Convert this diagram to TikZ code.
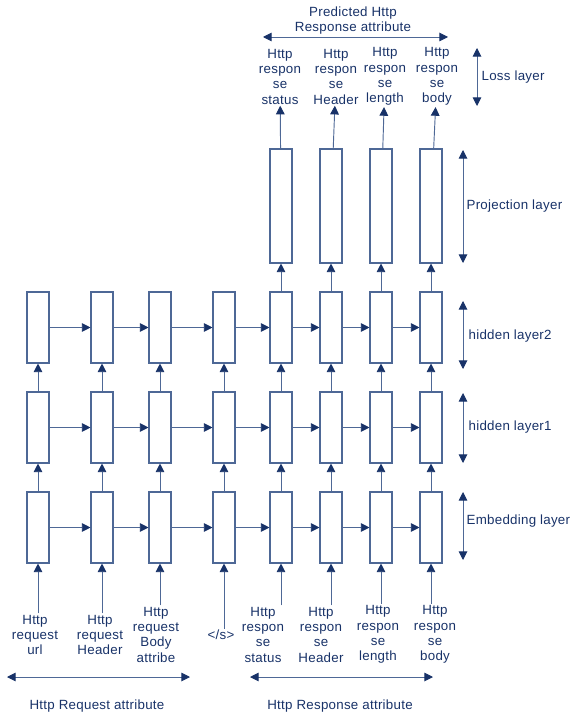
\documentclass[tikz,border=0pt]{standalone}
\usepackage{fontspec}
\setmainfont[LetterSpace=2]{Liberation Sans}
\usepackage{tikz}
\usetikzlibrary{arrows,arrows.meta,positioning}
\definecolor{rnnnavy}{RGB}{24,50,104}
\definecolor{rnnsteel}{RGB}{78,104,150}
\tikzstyle{arrow} = [line width=0.7pt,color=rnnsteel,-{Triangle[length=6.5pt,width=6.5pt,color=rnnnavy]}]
\tikzstyle{layerspan} = [line width=0.7pt,color=rnnsteel,{Triangle[length=6.5pt,width=6.5pt,color=rnnnavy]}-{Triangle[length=6.5pt,width=6.5pt,color=rnnnavy]}]
\tikzstyle{cell} = [rectangle, minimum width=16.5pt, minimum height=53.25pt, inner sep=0pt, draw=rnnsteel, line width=0.8pt, fill=white]
\tikzstyle{proj} = [cell, minimum height=85.5pt]
\tikzstyle{lbl} = [align=center, text=rnnnavy, inner sep=1pt, font=\fontsize{10}{11.5}\selectfont]

\begin{document}
\begin{tikzpicture}[x=0.75pt, y=-0.75pt]
\useasboundingbox (0,0) rectangle (572,716);

% Embedding layer
\node (e1) [cell] at (38,527.5) {};
\node (e2) [cell, right of=e1, node distance=48pt] {};
\node (e3) [cell, right of=e2, node distance=43.5pt] {};
\node (e4) [cell, right of=e3, node distance=48pt] {};
\node (e5) [cell, right of=e4, node distance=42.75pt] {};
\node (e6) [cell, right of=e5, node distance=37.5pt] {};
\node (e7) [cell, right of=e6, node distance=37.5pt] {};
\node (e8) [cell, right of=e7, node distance=37.5pt] {};

% Hidden layer 1
\node (f1) [cell, above of=e1, node distance=75pt] {};
\node (f2) [cell, above of=e2, node distance=75pt] {};
\node (f3) [cell, above of=e3, node distance=75pt] {};
\node (f4) [cell, above of=e4, node distance=75pt] {};
\node (f5) [cell, above of=e5, node distance=75pt] {};
\node (f6) [cell, above of=e6, node distance=75pt] {};
\node (f7) [cell, above of=e7, node distance=75pt] {};
\node (f8) [cell, above of=e8, node distance=75pt] {};

% Hidden layer 2
\node (s1) [cell, above of=f1, node distance=75pt] {};
\node (s2) [cell, above of=f2, node distance=75pt] {};
\node (s3) [cell, above of=f3, node distance=75pt] {};
\node (s4) [cell, above of=f4, node distance=75pt] {};
\node (s5) [cell, above of=f5, node distance=75pt] {};
\node (s6) [cell, above of=f6, node distance=75pt] {};
\node (s7) [cell, above of=f7, node distance=75pt] {};
\node (s8) [cell, above of=f8, node distance=75pt] {};

% Projection layer
\node (p5) [proj, above of=s5, node distance=91.125pt] {};
\node (p6) [proj, above of=s6, node distance=91.125pt] {};
\node (p7) [proj, above of=s7, node distance=91.125pt] {};
\node (p8) [proj, above of=s8, node distance=91.125pt] {};

% Inputs
\node (in1) [lbl] at (35,635) {Http\\request\\url};
\node (in2) [lbl] at (100,635) {Http\\request\\Header};
\node (in3) [lbl] at (156,634.5) {Http\\request\\Body\\attribe};
\node (in4) [lbl] at (221,635) {</s>};
\node (in5) [lbl] at (263,634.5) {Http\\respon\\se\\status};
\node (in6) [lbl] at (321,634.5) {Http\\respon\\se\\Header};
\node (in7) [lbl] at (378,634.5) {Http\\respon\\se\\length};
\node (in8) [lbl] at (435,634.5) {Http\\respon\\se\\body};

% Outputs
\node (out5) [lbl] at (280,76.5) {Http\\respon\\se\\status};
\node (out6) [lbl] at (336,76.5) {Http\\respon\\se\\Header};
\node (out7) [lbl] at (385,76.5) {Http\\respon\\se\\length};
\node (out8) [lbl] at (437,76.5) {Http\\respon\\se\\body};

% Layer marks
\coordinate (lossT) at (477,48);   \coordinate (lossB) at (477,106);
\coordinate (projT) at (463,150);  \coordinate (projB) at (463,263);
\coordinate (hidbT) at (463,301);  \coordinate (hidbB) at (463,369);
\coordinate (hidaT) at (463,393);  \coordinate (hidaB) at (463,463);
\coordinate (embT) at (463,492);   \coordinate (embB) at (463,560);
\coordinate (predL) at (263,37);   \coordinate (predR) at (448,37);
\coordinate (reqL) at (7,677);     \coordinate (reqR) at (190,677);
\coordinate (respL) at (250,677);  \coordinate (respR) at (433,677);

\node (loss) [lbl, anchor=west] at (480,77) {Loss layer};
\node (projtxt) [lbl, anchor=west] at (465,206) {Projection layer};
\node (hidb) [lbl, anchor=west] at (467,336) {hidden layer2};
\node (hida) [lbl, anchor=west] at (467,427) {hidden layer1};
\node (emb) [lbl, anchor=west] at (465,521) {Embedding layer};
\node (pred) [lbl] at (353,20.5) {Predicted Http\\Response attribute};
\node (req) [lbl] at (97,706) {Http Request attribute};
\node (resp) [lbl] at (340,706) {Http Response attribute};

% Connections
\draw[arrow] (e1) -- (e2);
\draw[arrow] (e2) -- (e3);
\draw[arrow] (e3) -- (e4);
\draw[arrow] (e4) -- (e5);
\draw[arrow] (e5) -- (e6);
\draw[arrow] (e6) -- (e7);
\draw[arrow] (e7) -- (e8);
\draw[arrow] (f1) -- (f2);
\draw[arrow] (f2) -- (f3);
\draw[arrow] (f3) -- (f4);
\draw[arrow] (f4) -- (f5);
\draw[arrow] (f5) -- (f6);
\draw[arrow] (f6) -- (f7);
\draw[arrow] (f7) -- (f8);
\draw[arrow] (s1) -- (s2);
\draw[arrow] (s2) -- (s3);
\draw[arrow] (s3) -- (s4);
\draw[arrow] (s4) -- (s5);
\draw[arrow] (s5) -- (s6);
\draw[arrow] (s6) -- (s7);
\draw[arrow] (s7) -- (s8);
\draw[arrow] (e1) -- (f1);
\draw[arrow] (e2) -- (f2);
\draw[arrow] (e3) -- (f3);
\draw[arrow] (e4) -- (f4);
\draw[arrow] (e5) -- (f5);
\draw[arrow] (e6) -- (f6);
\draw[arrow] (e7) -- (f7);
\draw[arrow] (e8) -- (f8);
\draw[arrow] (f1) -- (s1);
\draw[arrow] (f2) -- (s2);
\draw[arrow] (f3) -- (s3);
\draw[arrow] (f4) -- (s4);
\draw[arrow] (f5) -- (s5);
\draw[arrow] (f6) -- (s6);
\draw[arrow] (f7) -- (s7);
\draw[arrow] (f8) -- (s8);
\draw[arrow] (s5) -- (p5);
\draw[arrow] (s6) -- (p6);
\draw[arrow] (s7) -- (p7);
\draw[arrow] (s8) -- (p8);
\draw[arrow] (p5) -- (out5);
\draw[arrow] (p6) -- (out6);
\draw[arrow] (p7) -- (out7);
\draw[arrow] (p8) -- (out8);
\draw[arrow] (in1.north -| e1) -- (e1);
\draw[arrow] (in2.north -| e2) -- (e2);
\draw[arrow] (in3.north -| e3) -- (e3);
\draw[arrow] (in4.north -| e4) -- (e4);
\draw[arrow] (in5.north -| e5) -- (e5);
\draw[arrow] (in6.north -| e6) -- (e6);
\draw[arrow] (in7.north -| e7) -- (e7);
\draw[arrow] (in8.north -| e8) -- (e8);
\draw[layerspan] (lossT) -- (lossB);
\draw[layerspan] (projT) -- (projB);
\draw[layerspan] (hidbT) -- (hidbB);
\draw[layerspan] (hidaT) -- (hidaB);
\draw[layerspan] (embT) -- (embB);
\draw[layerspan] (predL) -- (predR);
\draw[layerspan] (reqL) -- (reqR);
\draw[layerspan] (respL) -- (respR);
\end{tikzpicture}
\end{document}
